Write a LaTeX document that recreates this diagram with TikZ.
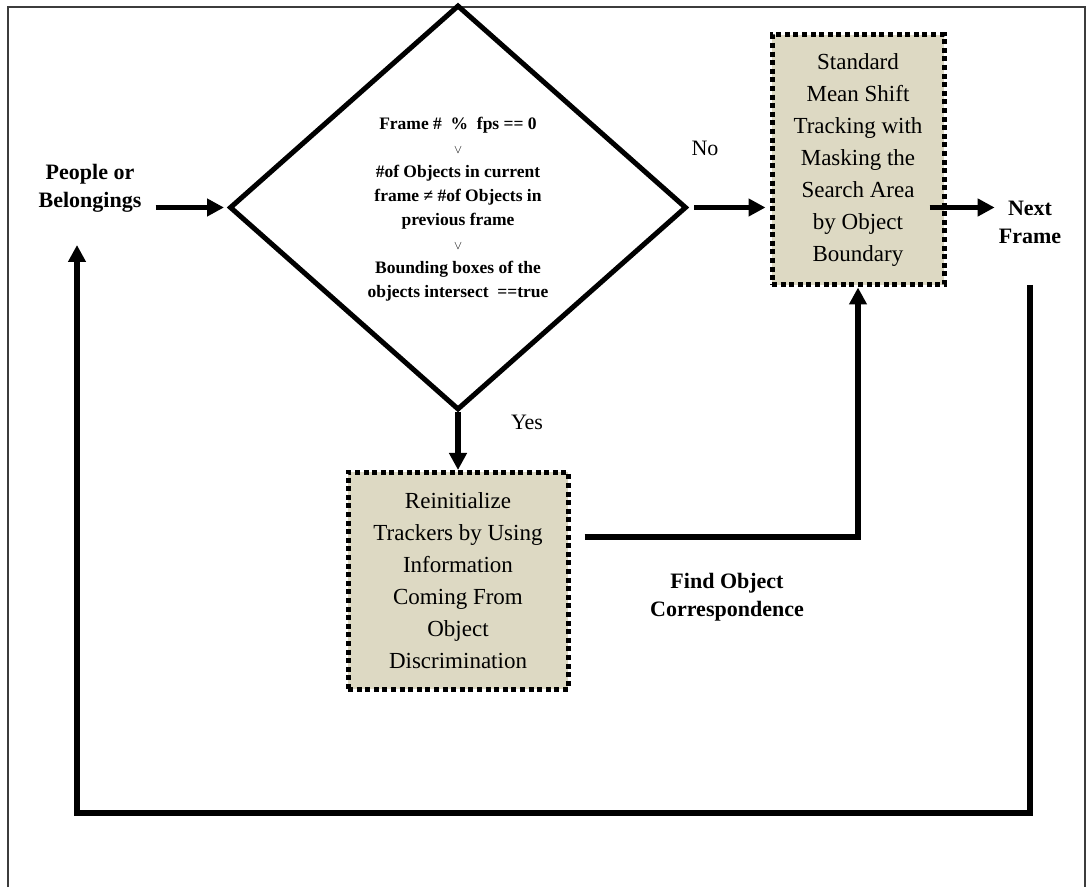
\documentclass[tikz,border=0pt]{standalone}
\usepackage{fontspec}
\setmainfont{Liberation Serif}
\usetikzlibrary{arrows.meta,calc,positioning,shapes.geometric}

\definecolor{boxfill}{HTML}{DDD9C3}
\definecolor{framec}{HTML}{3C3C3C}

\tikzset{
  procbox/.style={draw=black, fill=boxfill, line width=5pt, dash pattern=on 5pt off 3.6pt, align=center, inner sep=0pt, font=\fontsize{23}{32}\selectfont},
  decbox/.style={diamond, draw=black, line width=5pt, inner sep=0pt},
  lbl/.style={align=center, inner sep=0pt, font=\bfseries\fontsize{22}{28}\selectfont},
  plain/.style={inner sep=0pt, font=\fontsize{22}{26}\selectfont},
  flow/.style={draw=black, line width=5.5pt, -{Triangle[length=17pt,width=17pt]}},
}

\begin{document}
\begin{tikzpicture}[x=1pt,y=1pt]
\useasboundingbox (0pt,0pt) rectangle (1090pt,887pt);
% outer frame
\draw[draw=framec, line width=2pt] (8pt,0pt) -- (8pt,880pt) -- (1085pt,880pt) -- (1085pt,0pt);

% decision
\node[decbox, minimum width=457pt, minimum height=405pt] (dec) at (458pt,679.5pt) {};
\node[align=center, inner sep=0pt, font=\bfseries\fontsize{17.5}{24}\selectfont] (dectext) at (458pt,678pt)
  {Frame \#\ \ \%\ \ fps == 0\\
   {\normalfont\fontsize{12}{24}\selectfont$\vee$}\\
   \#of Objects in current\\
   frame ≠ \#of Objects in\\
   previous frame\\
   {\normalfont\fontsize{12}{24}\selectfont$\vee$}\\
   Bounding boxes of the\\
   objects intersect\ \ ==true};

% process boxes
\node[procbox, minimum width=172pt, minimum height=250pt] (track) at (858pt,727pt)
  {Standard\\Mean Shift\\Tracking with\\Masking the\\Search Area\\by Object\\Boundary};
\node[procbox, minimum width=220pt, minimum height=217pt] (reinit) at (458pt,306pt)
  {Reinitialize\\Trackers by Using\\Information\\Coming From\\Object\\Discrimination};

% labels
\node[lbl] (src) at (90pt,699pt) {People or\\Belongings};
\node[lbl] (next) at (1030pt,665pt) {Next\\Frame};
\node[lbl] (corr) at (727pt,290pt) {Find Object\\Correspondence};
\node[plain] (no) at (705pt,739pt) {No};
\node[plain] (yes) at (527pt,465pt) {Yes};

% connectors
\draw[flow] ($(src.east |- dec.west)+(14pt,0pt)$) -- ([xshift=-3pt]dec.west);
\draw[flow, shorten <=5pt, shorten >=4pt] (dec.east) -- (dec.east -| track.west);
\draw[flow] ($(track.east |- dec.east)+(-17pt,0pt)$) -- ($(next.west |- dec.east)+(-4pt,0pt)$);
\draw[flow] (dec.south) -- (reinit.north);
\draw[flow] ($(reinit.east)+(14pt,44pt)$) -| (track.south);

% feedback loop
\coordinate (loopR) at (1030pt,602pt);
\coordinate (loopL) at (77pt,642pt);
\draw[flow] (loopR) -- ++(0pt,-528pt) -| (loopL);
\end{tikzpicture}
\end{document}
